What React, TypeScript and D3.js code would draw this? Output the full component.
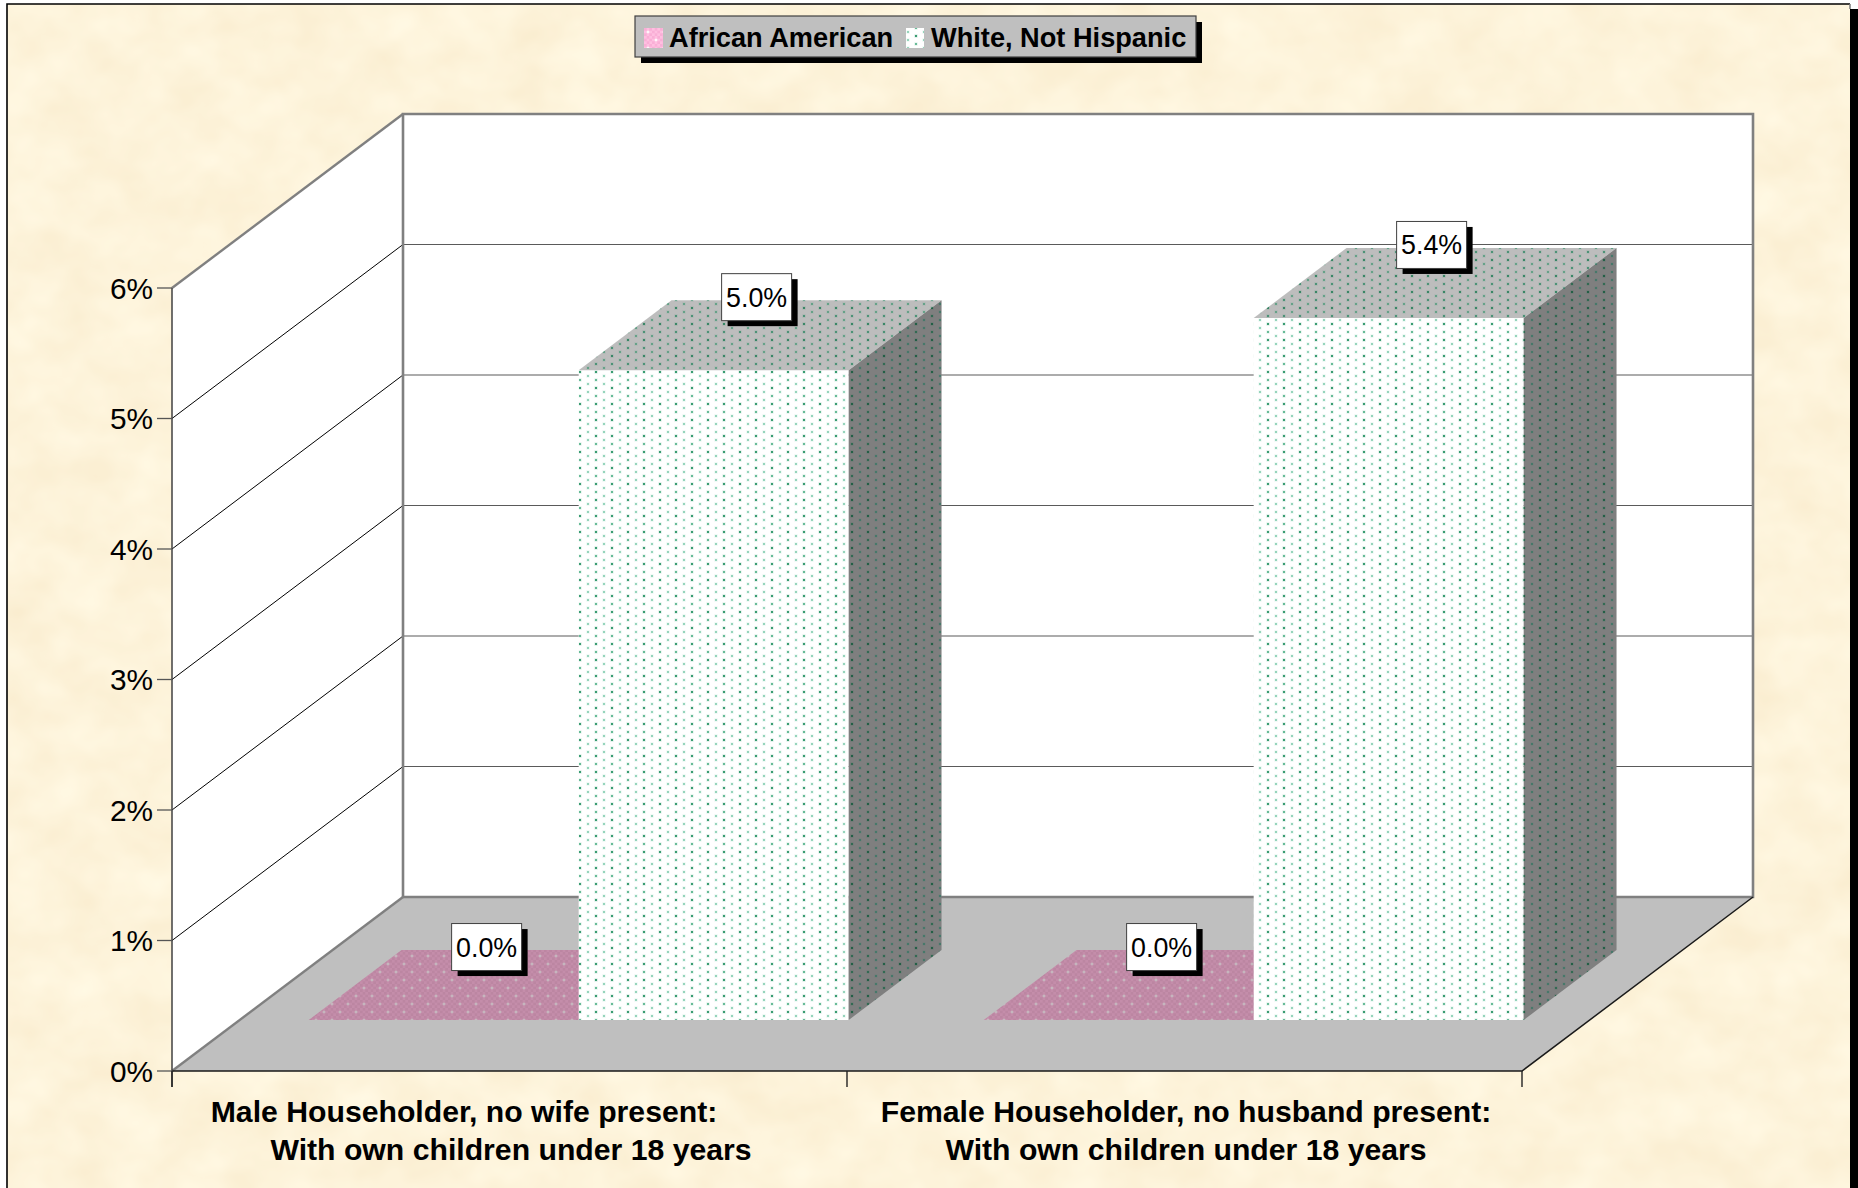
import React from "react";
import * as d3 from "d3";

const categories = ["Male Householder, no wife present:", "Female Householder, no husband present:"];
const subLabels = ["With own children under 18 years", "With own children under 18 years"];
const seriesNames = ["African American", "White, Not Hispanic"];
const africanAmerican = [0.0, 0.0];
const whiteNotHispanic = [4.98, 5.38];
const yTicks = [0, 1, 2, 3, 4, 5, 6];

const FONT = "'Liberation Sans', Arial, sans-serif";
const FRONT_X0 = 172, FRONT_X1 = 1522, FRONT_Y0 = 1071, FRONT_Y6 = 288;
const DEPTH_X = 231, DEPTH_Y = 174;
const BAR_Z0 = 0.293, BAR_Z1 = 0.695;
const labelNudge = [[-47, 0], [0, 0]];

const xGroup = d3.scaleBand<number>().domain([0, 1]).range([FRONT_X0, FRONT_X1]);
const xSeries = d3.scaleBand<number>().domain([0, 1]).range([1.5, xGroup.bandwidth() + 1.5]).paddingOuter(0.25).paddingInner(0);
const yScale = d3.scaleLinear().domain([0, 6]).range([FRONT_Y0, FRONT_Y6]);

// oblique projection: x in px along the front plane, v in data units, z 0..1 from front to back
const proj = (x: number, v: number, z: number): [number, number] => [x + DEPTH_X * z, yScale(v) - DEPTH_Y * z];
const poly = d3.line().curve(d3.curveLinearClosed);
const seg = d3.line();

function Bar({ x0, x1, value, kind }: { x0: number; x1: number; value: number; kind: "pink" | "green" }) {
  const tl = proj(x0, value, BAR_Z0), tr = proj(x1, value, BAR_Z0);
  const bl = proj(x0, 0, BAR_Z0), br = proj(x1, 0, BAR_Z0);
  const tlb = proj(x0, value, BAR_Z1), trb = proj(x1, value, BAR_Z1), brb = proj(x1, 0, BAR_Z1);
  if (kind === "pink") return <path d={poly([tl, tr, trb, tlb])!} fill="url(#pinkTop)" />;
  return (
    <g>
      <path d={poly([bl, br, tr, tl])!} fill="url(#greenFront)" />
      <path d={poly([tl, tr, trb, tlb])!} fill="url(#greenTop)" />
      <path d={poly([br, brb, trb, tr])!} fill="url(#greenSide)" />
    </g>
  );
}

function ValueLabel({ x0, x1, value }: { x0: number; x1: number; value: number }) {
  const f = proj((x0 + x1) / 2, value, (BAR_Z0 + BAR_Z1) / 2);
  const cx = f[0] - 3.5, cy = f[1] - 38;
  const w = 70, h = 47;
  return (
    <g>
      <rect x={cx - w / 2 + 6} y={cy - h / 2 + 5.5} width={w} height={h} fill="#000" />
      <rect x={cx - w / 2} y={cy - h / 2} width={w} height={h} fill="#fff" stroke="#404040" strokeWidth={1} />
      <text x={cx} y={cy + 9.5} textAnchor="middle" fontSize={26.8} fontFamily={FONT} fill="#000">
        {d3.format(".1f")(value)}%
      </text>
    </g>
  );
}

function Dot({ x, y, c }: { x: number; y: number; c: string }) {
  return (
    <g>
      <rect x={x - 1.6} y={y - 1.6} width={3.2} height={3.2} fill={c} opacity={0.22} />
      <rect x={x - 1} y={y - 1} width={2} height={2} fill={c} />
    </g>
  );
}

function dots(id: string, bg: string, a: string, b: string, c: string) {
  return (
    <pattern id={id} width={16} height={16} patternUnits="userSpaceOnUse">
      <rect width={16} height={16} fill={bg} />
      <Dot x={4} y={4} c={a} />
      <Dot x={4} y={12} c={b} />
      <Dot x={12} y={8} c={c} />
      <Dot x={12} y={16} c={c} />
      <Dot x={12} y={0} c={c} />
    </pattern>
  );
}

export default function App() {
  const fl = proj(FRONT_X0, 0, 0), fr = proj(FRONT_X1, 0, 0);
  const bl = proj(FRONT_X0, 0, 1), br = proj(FRONT_X1, 0, 1);
  const tfl = proj(FRONT_X0, 6, 0), tbl = proj(FRONT_X0, 6, 1), tbr = proj(FRONT_X1, 6, 1);
  return (
    <div style={{ position: "absolute", left: 0, top: 0 }}>
      <svg width={1858} height={1188} style={{ display: "block" }}>
        <defs>
          <filter id="parchment" x="0" y="0" width="100%" height="100%" colorInterpolationFilters="sRGB">
            <feTurbulence type="fractalNoise" baseFrequency="0.018 0.022" numOctaves={3} seed={7} />
            <feColorMatrix
              type="matrix"
              values="0.03 0 0 0 0.977  0.06 0 0 0 0.923  0.10 0 0 0 0.805  0 0 0 0 1"
            />
          </filter>
          {dots("greenFront", "#ffffff", "#3a9c72", "#68bb98", "#96d4bc")}
          {dots("greenTop", "#bdbdbd", "#3a8666", "#4d9277", "#66a188")}
          {dots("greenSide", "#7f7f7f", "#245f46", "#336a53", "#47786a")}
          <pattern id="check" width={5.33} height={5.33} patternUnits="userSpaceOnUse">
            <rect width={5.33} height={5.33} fill="#c48daa" />
            <rect width={2.67} height={2.67} fill="#bc86a2" />
            <rect x={2.67} y={2.67} width={2.67} height={2.67} fill="#bc86a2" />
          </pattern>
          <pattern id="pinkTop" width={16} height={16} patternUnits="userSpaceOnUse">
            <rect width={16} height={16} fill="url(#check)" />
            <path d="M4 2 L4.7 3.3 L6 4 L4.7 4.7 L4 6 L3.3 4.7 L2 4 L3.3 3.3Z" fill="#c8bcc2" />
            <path d="M12 10 L12.7 11.3 L14 12 L12.7 12.7 L12 14 L11.3 12.7 L10 12 L11.3 11.3Z" fill="#c8bcc2" />
          </pattern>
          <pattern id="pinkCheck" width={5.33} height={5.33} patternUnits="userSpaceOnUse">
            <rect width={5.33} height={5.33} fill="#ffbfe0" />
            <rect width={2.67} height={2.67} fill="#f9aed6" />
            <rect x={2.67} y={2.67} width={2.67} height={2.67} fill="#f9aed6" />
          </pattern>
          <pattern id="pinkSwatch" width={16} height={16} patternUnits="userSpaceOnUse" x={644} y={28}>
            <rect width={16} height={16} fill="url(#pinkCheck)" />
            <path d="M4 2 L4.7 3.3 L6 4 L4.7 4.7 L4 6 L3.3 4.7 L2 4 L3.3 3.3Z" fill="#ffffff" />
            <path d="M12 10 L12.7 11.3 L14 12 L12.7 12.7 L12 14 L11.3 12.7 L10 12 L11.3 11.3Z" fill="#ffffff" />
          </pattern>
        </defs>

        {/* page and frame */}
        <rect width={1858} height={1188} fill="#fff" />
        <rect x={1849} y={9} width={9} height={1179} fill="#000" />
        <rect x={7} y={4} width={1843} height={1184} filter="url(#parchment)" />
        <path d="M7 1188 V4 H1850" fill="none" stroke="#000" strokeWidth={1.6} />
        <path d="M1850 4 V9" fill="none" stroke="#808080" strokeWidth={1.6} />

        {/* walls and floor */}
        <path d={poly([tbl, tbr, br, bl])!} fill="#fff" />
        <path d={poly([tfl, tbl, bl, fl])!} fill="#fff" />
        <path d={poly([fl, fr, br, bl])!} fill="#bfbfbf" />

        {/* gridlines */}
        {yTicks.filter((t) => t > 0 && t < 6).map((t) => (
          <g key={t}>
            <path d={seg([proj(FRONT_X0, t, 1), proj(FRONT_X1, t, 1)])!} stroke="#5a5a5a" strokeWidth={1.2} fill="none" />
            <path d={seg([proj(FRONT_X0, t, 0), proj(FRONT_X0, t, 1)])!} stroke="#000" strokeWidth={1} fill="none" />
          </g>
        ))}

        {/* wall edges */}
        <path d={seg([bl, tbl, tbr, br, bl])!} stroke="#808080" strokeWidth={2.6} fill="none" />
        <path d={seg([tfl, tbl])!} stroke="#808080" strokeWidth={2.4} fill="none" />
        <path d={seg([fl, bl])!} stroke="#808080" strokeWidth={2.4} fill="none" />
        <path d={seg([fl, fr, br])!} stroke="#1a1a1a" strokeWidth={1.5} fill="none" />
        <path d={seg([tfl, [FRONT_X0, FRONT_Y0 + 16]])!} stroke="#404040" strokeWidth={1.5} fill="none" />

        {/* y axis */}
        {yTicks.map((t) => (
          <g key={t}>
            <path d={seg([[FRONT_X0 - 15, yScale(t)], [FRONT_X0, yScale(t)]])!} stroke="#555" strokeWidth={1.3} fill="none" />
            <text x={FRONT_X0 - 19} y={yScale(t) + 10.5} textAnchor="end" fontSize={29.8} fontFamily={FONT} fill="#000">
              {t}%
            </text>
          </g>
        ))}

        {/* x axis ticks */}
        {[0, 1, 2].map((i) => {
          const x = FRONT_X0 + i * xGroup.bandwidth();
          return <path key={i} d={seg([[x, FRONT_Y0], [x, FRONT_Y0 + 16]])!} stroke="#222" strokeWidth={1.4} fill="none" />;
        })}

        {/* bars */}
        {categories.map((_, i) => {
          const g = xGroup(i)!;
          return (
            <g key={i}>
              <Bar x0={g + xSeries(0)!} x1={g + xSeries(0)! + xSeries.bandwidth()} value={africanAmerican[i]} kind="pink" />
              <Bar x0={g + xSeries(1)!} x1={g + xSeries(1)! + xSeries.bandwidth()} value={whiteNotHispanic[i]} kind="green" />
            </g>
          );
        })}

        {/* value labels */}
        {categories.map((_, i) => {
          const g = xGroup(i)!;
          return (
            <g key={i}>
              <ValueLabel x0={g + xSeries(0)!} x1={g + xSeries(0)! + xSeries.bandwidth()} value={africanAmerican[i]} />
              <ValueLabel x0={g + xSeries(1)!} x1={g + xSeries(1)! + xSeries.bandwidth()} value={whiteNotHispanic[i]} />
            </g>
          );
        })}

        {/* category labels */}
        {categories.map((c, i) => {
          const cx = xGroup(i)! + xGroup.bandwidth() / 2 + 1.5;
          return (
            <g key={c} fontFamily={FONT} fontWeight="bold" fontSize={30.2} fill="#000" textAnchor="middle">
              <text x={cx + labelNudge[i][0]} y={1122}>{c}</text>
              <text x={cx + labelNudge[i][1]} y={1159.5}>{subLabels[i]}</text>
            </g>
          );
        })}

        {/* legend */}
        <rect x={641} y={22} width={561} height={41} fill="#000" />
        <rect x={635} y={16} width={561} height={41} fill="#bfbfbf" stroke="#404040" strokeWidth={1.2} />
        <rect x={644} y={28} width={19} height={20} fill="url(#pinkSwatch)" />
        <rect x={906} y={28} width={18} height={20} fill="url(#greenFront)" />
        <g fontFamily={FONT} fontWeight="bold" fontSize={27.2} fill="#000">
          <text x={669} y={47}>{seriesNames[0]}</text>
          <text x={931} y={47}>{seriesNames[1]}</text>
        </g>
      </svg>
    </div>
  );
}
